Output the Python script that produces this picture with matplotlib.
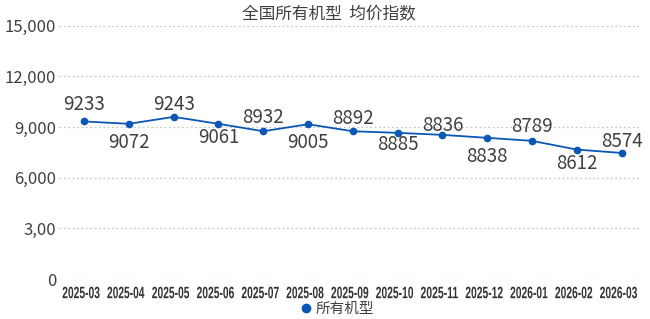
import matplotlib
matplotlib.use('Agg')
import matplotlib.pyplot as plt
from matplotlib.textpath import TextPath
from matplotlib.patches import PathPatch
from matplotlib.font_manager import FontProperties
from matplotlib.transforms import Affine2D

plt.rcParams['font.family'] = ['Noto Sans CJK SC', 'DejaVu Sans']

# 数据
months = ['2025-03', '2025-04', '2025-05', '2025-06', '2025-07', '2025-08', '2025-09',
          '2025-10', '2025-11', '2025-12', '2026-01', '2026-02', '2026-03']
# высота точек, как они нарисованы на картинке
point_values = [9330, 9190, 9600, 9190, 8750, 9165, 8750, 8655, 8535, 8360, 8180, 7665, 7465]
# подписи, как они написаны на картинке
label_values = [9233, 9072, 9243, 9061, 8932, 9005, 8892, 8885, 8836, 8838, 8789, 8612, 8574]
y_ticks = [0, 3000, 6000, 9000, 12000, 15000]
y_tick_labels = ['0', '3,00', '6,000', '9,000', '12,000', '15,000']
title = '全国所有机型  均价指数'
series_name = '所有机型'

# смещения подписей в пикселях (+ вверх, - вниз)
label_dy = [17, -19, 12, -14, 14, -18, 13, -12, 9, -19, 14, -14, 11]

blue = '#0b57b3'
text_col = '#404040'

fig = plt.figure(figsize=(6.5, 3.19), dpi=100)
ax = fig.add_axes([59 / 650, 1 - 279 / 319, 580 / 650, 253.3 / 319])

x = list(range(len(months)))
ax.plot(x, point_values, color=blue, lw=1.3, marker='o', ms=4.5, zorder=3,
        label=series_name)

for i, (v, lab) in enumerate(zip(point_values, label_values)):
    ax.annotate(str(lab), (i, v), xytext=(0, label_dy[i] * 0.72), textcoords='offset points',
                ha='center', va='center', fontsize=13.5, color=text_col)

ax.set_ylim(0, 15000)
ax.set_xlim(-0.56, 12.39)
ax.set_yticks(y_ticks)
ax.set_yticklabels(y_tick_labels, fontsize=12, color=text_col)
ax.set_xticks(x)
ax.set_xticklabels([])
ax.tick_params(length=0, pad=2)
ax.grid(axis='y', color='#c8c8c8', ls=(0, (1.5, 2)), lw=0.9)
ax.set_axisbelow(True)
for s in ax.spines.values():
    s.set_visible(False)

# подписи оси X узким жирным шрифтом (сжимаем текст по ширине)
fp = FontProperties(family='Liberation Sans', weight='bold')
for i, m in enumerate(months):
    tp = TextPath((0, 0), m, size=16, prop=fp)
    ext = tp.get_extents()
    sx = 37 / ext.width
    sy = 11.7 / ext.height
    px = ax.transData.transform((i, 0))[0] - 3
    tr = (Affine2D().translate(-ext.x0 - ext.width / 2, -ext.y0 - ext.height / 2)
          .scale(sx, sy).translate(px, 319 - 292.5))
    fig.patches.append(PathPatch(tp, transform=tr, facecolor='#333333', edgecolor='none',
                                 figure=fig))

fig.text(329 / 650, 1 - 15 / 319, title, ha='center', va='center', fontsize=12, color=text_col)

leg = fig.legend(handles=ax.get_lines(), loc='center', bbox_to_anchor=(338 / 650, 1 - 309 / 319),
                 frameon=False, fontsize=10.5, handlelength=0.6, handletextpad=0.4,
                 borderpad=0, labelcolor=text_col)
for h in leg.legend_handles:
    h.set_linestyle('none')
    h.set_markersize(6)

plt.savefig('out.png', dpi=100)
